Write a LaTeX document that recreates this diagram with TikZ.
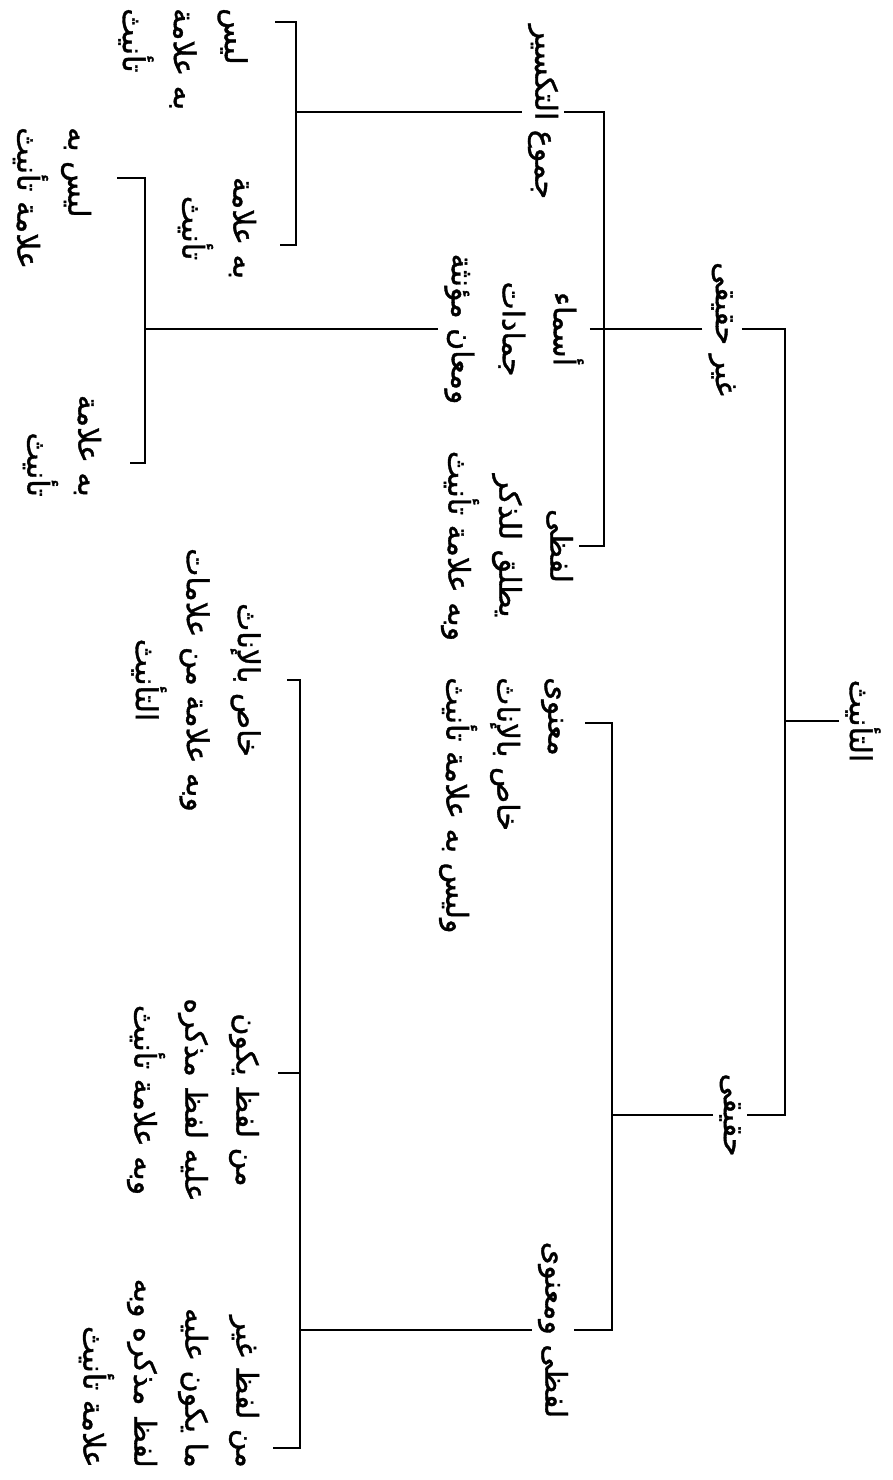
\documentclass[tikz,border=0pt]{standalone}
\usepackage{fontspec}
\newfontfamily\arabicfont[Script=Arabic,FakeBold=1.2]{DejaVu Sans}
\TeXXeTstate=1
\newcommand{\RTLline}[1]{\beginR #1\endR}
\begin{document}
\begin{tikzpicture}[x=1pt,y=-1pt,
  lbl/.style={font=\arabicfont\fontsize{30}{51}\selectfont, rotate=-90, inner sep=6pt, align=center},
  ln/.style={line width=2.4pt}]
\fill[white] (0,0) rectangle (893,1480);
\useasboundingbox (0,0) rectangle (893,1480);
% nodes
\node[lbl] (root) at (863,721) {\RTLline{التأنيث}};
\node[lbl] (gh) at (722,329) {\RTLline{غير حقيقى}};
\node[lbl] (hq) at (730,1115) {\RTLline{حقيقى}};
\node[lbl] (jm) at (543,112) {\RTLline{جموع التكسير}};
\node[lbl] (asm) at (514,329) {\RTLline{أسماء}\\\RTLline{جمادات}\\\RTLline{ومعان مؤنثة}};
\node[lbl] (lfz) at (507,546) {\RTLline{لفظى}\\\RTLline{يطلق للذكر}\\\RTLline{وبه علامة تأنيث}};
\node[lbl, align=left, anchor=west] (c7) at (183,2) {\RTLline{ليس}\\\RTLline{به علامة}\\\RTLline{تأنيث}};
\node[lbl] (c8) at (217,228) {\RTLline{به علامة}\\\RTLline{تأنيث}};
\node[lbl, align=left, anchor=west] (c9) at (52,121) {\RTLline{ليس به}\\\RTLline{علامة تأنيث}};
\node[lbl, align=right, anchor=east] (c10) at (62,503) {\RTLline{به علامة}\\\RTLline{تأنيث}};
\node[lbl, align=left, anchor=west] (c11) at (501,671) {\RTLline{معنوى}\\\RTLline{خاص بالإناث}\\\RTLline{وليس به علامة تأنيث}};
\node[lbl] (c12) at (553,1330) {\RTLline{لفظى ومعنوى}};
\node[lbl] (c13) at (196,680) {\RTLline{خاص بالإناث}\\\RTLline{وبه علامة من علامات}\\\RTLline{التأنيث}};
\node[lbl] (c14) at (193,1100) {\RTLline{من لفظ يكون}\\\RTLline{عليه لفظ مذكره}\\\RTLline{وبه علامة تأنيث}};
\node[lbl, align=right, anchor=east] (c15) at (169,1474) {\RTLline{من لفظ غير}\\\RTLline{ما يكون عليه}\\\RTLline{لفظ مذكره وبه}\\\RTLline{علامة تأنيث}};
% bracket coordinates
\coordinate (b1) at (785,0);
\coordinate (b2a) at (604,0);
\coordinate (b2b) at (612,0);
\coordinate (b3a) at (296,0);
\coordinate (b3b) at (145,0);
\coordinate (b3c) at (300,0);
\coordinate (t7) at (275,22);
\coordinate (t8) at (280,245);
\coordinate (t9) at (117,178);
\coordinate (t10) at (130,463);
\coordinate (t11) at (585,723);
\coordinate (t13) at (287,680);
\coordinate (t14) at (278,1073);
\coordinate (t15) at (273,1448);
% connectors
\draw[ln] (root.south) -- (root.south -| b1);
\draw[ln] (gh.north) -- (gh.north -| b1) -- (hq.north -| b1) -- (hq.north);
\draw[ln] (gh.south) -- (gh.south -| b2a);
\draw[ln] (jm.north) -- (jm.north -| b2a) -- (lfz.north -| b2a) -- (lfz.north);
\draw[ln] (asm.north) -- (asm.north -| b2a);
\draw[ln] (jm.south) -- (jm.south -| b3a);
\draw[ln] (t7) -- (t7 -| b3a) -- (t8 -| b3a) -- (t8);
\draw[ln] (asm.south) -- (asm.south -| b3b);
\draw[ln] (t9) -- (t9 -| b3b) -- (t10 -| b3b) -- (t10);
\draw[ln] (hq.south) -- (hq.south -| b2b);
\draw[ln] (t11) -- (t11 -| b2b) -- (c12.north -| b2b) -- (c12.north);
\draw[ln] (c12.south) -- (c12.south -| b3c);
\draw[ln] (t13) -- (t13 -| b3c) -- (t15 -| b3c) -- (t15);
\draw[ln] (t14) -- (t14 -| b3c);
\end{tikzpicture}
\end{document}
